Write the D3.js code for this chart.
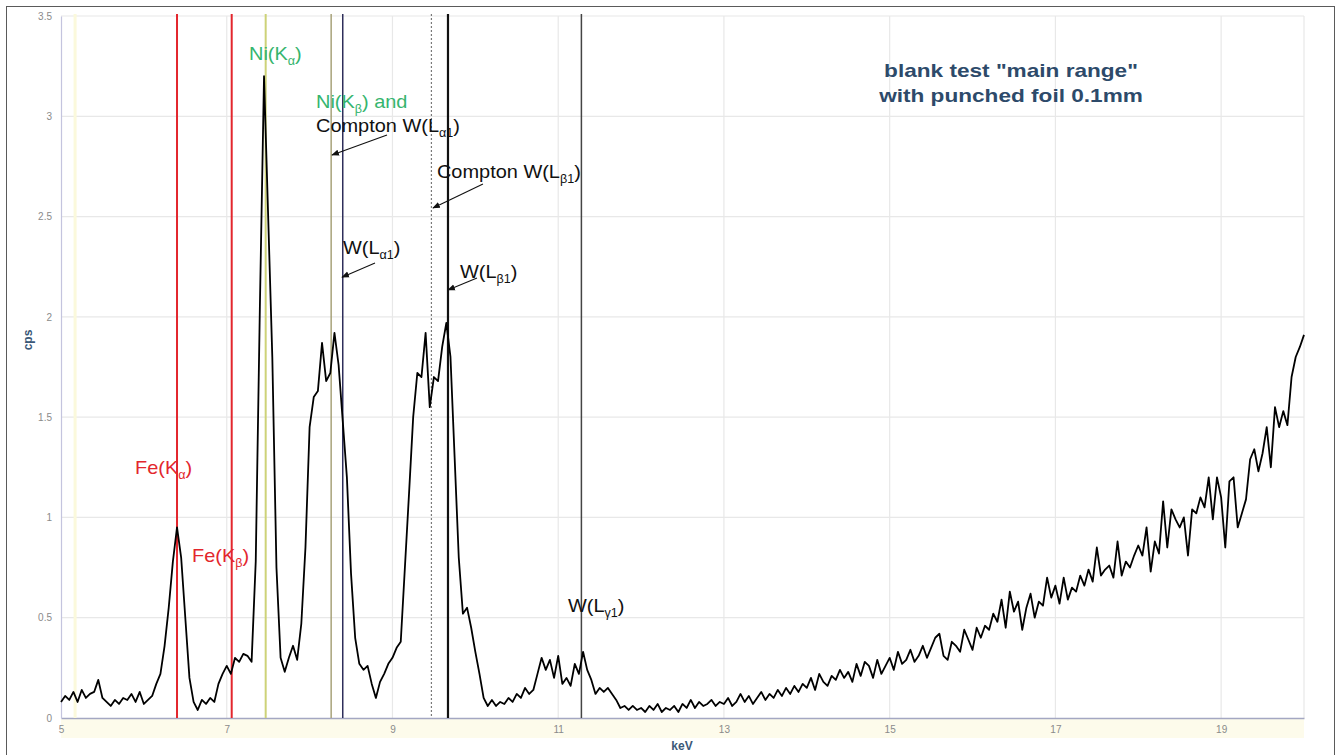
<!DOCTYPE html>
<html>
<head>
<meta charset="utf-8">
<script src="https://cdn.jsdelivr.net/npm/d3@7"></script>
<style>
  html, body { margin: 0; padding: 0; background: #fff; }
  #chart { width: 1339px; height: 755px; }
  text { font-family: "Liberation Sans", Arial, sans-serif; }
</style>
</head>
<body>
<div id="chart"></div>
<script>
//Datos del espectro: cps cada 0.05 keV, de 5 a 20 keV
const keVStart = 5, keVStep = 0.05;
const cps = [
  // 5.00 - 5.95
  0.08,0.11,0.09,0.13,0.08,0.14,0.10,0.12,0.13,0.19,0.10,0.08,0.06,0.09,0.07,0.10,0.09,0.12,0.08,0.13,
  // 6.00 - 6.95
  0.07,0.09,0.11,0.17,0.22,0.36,0.55,0.78,0.95,0.80,0.50,0.20,0.08,0.04,0.09,0.07,0.10,0.08,0.17,0.22,
  // 7.00 - 7.95
  0.26,0.22,0.30,0.28,0.32,0.31,0.28,0.78,2.05,3.20,2.50,1.80,0.75,0.30,0.23,0.30,0.36,0.29,0.47,0.85,
  // 8.00 - 8.95
  1.45,1.60,1.63,1.87,1.68,1.72,1.92,1.76,1.48,1.20,0.72,0.40,0.27,0.24,0.26,0.17,0.10,0.18,0.22,0.27,
  // 9.00 - 9.95
  0.30,0.35,0.38,0.75,1.12,1.50,1.72,1.70,1.92,1.55,1.70,1.68,1.85,1.97,1.80,1.30,0.80,0.52,0.55,0.45,
  // 10.00 - 10.95
  0.33,0.22,0.10,0.06,0.09,0.06,0.08,0.07,0.10,0.08,0.12,0.10,0.15,0.12,0.14,0.22,0.30,0.24,0.29,0.20,
  // 11.00 - 11.95
  0.31,0.17,0.20,0.16,0.27,0.22,0.33,0.24,0.19,0.12,0.15,0.13,0.15,0.12,0.09,0.05,0.06,0.04,0.06,0.04,
  // 12.00 - 12.95
  0.05,0.03,0.06,0.04,0.07,0.03,0.05,0.04,0.06,0.03,0.07,0.05,0.09,0.05,0.08,0.06,0.07,0.09,0.06,0.08,
  // 13.00 - 13.95
  0.07,0.10,0.06,0.08,0.12,0.08,0.11,0.07,0.10,0.13,0.09,0.12,0.10,0.14,0.11,0.15,0.12,0.16,0.13,0.17,
  // 14.00 - 14.95
  0.15,0.20,0.14,0.22,0.18,0.16,0.21,0.19,0.24,0.20,0.23,0.18,0.27,0.21,0.28,0.26,0.20,0.29,0.22,0.26,
  // 15.00 - 15.95
  0.30,0.24,0.33,0.27,0.29,0.34,0.28,0.31,0.36,0.30,0.35,0.40,0.42,0.31,0.29,0.38,0.36,0.33,0.44,0.39,
  // 16.00 - 16.95
  0.34,0.45,0.40,0.46,0.44,0.52,0.48,0.59,0.45,0.63,0.53,0.58,0.44,0.55,0.62,0.50,0.58,0.56,0.70,0.60,
  // 17.00 - 17.95
  0.66,0.57,0.70,0.59,0.65,0.63,0.71,0.66,0.74,0.68,0.85,0.71,0.74,0.76,0.70,0.88,0.71,0.78,0.75,0.81,
  // 18.00 - 18.95
  0.86,0.81,0.95,0.73,0.88,0.82,1.08,0.85,1.04,0.99,0.95,1.00,0.81,1.04,1.02,1.10,1.05,1.20,0.99,1.20,
  // 19.00 - 19.95
  1.10,0.85,1.18,1.20,0.95,1.02,1.09,1.29,1.34,1.23,1.32,1.45,1.25,1.55,1.45,1.53,1.46,1.70,1.80,1.85,
  // 20.00
  1.91
];

//Ejes
const xTicks = [5, 7, 9, 11, 13, 15, 17, 19];
const yTicks = [0, 0.5, 1, 1.5, 2, 2.5, 3, 3.5];

//Líneas de emisión (keV)
const lineNames = ['extra', 'FeKa', 'FeKb', 'NiKa', 'NiKb', 'WLa1', 'ComptonWLb1', 'WLb1', 'WLg1'];
const lineEnergies = [5.17, 6.40, 7.06, 7.47, 8.26, 8.40, 9.47, 9.67, 11.28];

//Etiquetas: texto principal, subíndice, resto, posición (keV, cps)
const labelMain = ['Fe(K', 'Fe(K', 'Ni(K', 'Ni(K', 'Compton W(L', 'Compton W(L', 'W(L', 'W(L', 'W(L'];
const labelSub = ['\u03b1', '\u03b2', '\u03b1', '\u03b2', '\u03b11', '\u03b21', '\u03b11', '\u03b21', '\u03b31'];
const labelTail = [')', ')', ')', ') and', ')', ')', ')', ')', ')'];
const labelKeV = [5.893, 6.581, 7.269, 8.077, 8.077, 9.537, 8.403, 9.815, 11.118];
const labelCps = [1.217, 0.778, 3.281, 3.041, 2.922, 2.694, 2.313, 2.194, 0.528];
const labelGroup = ['fe', 'fe', 'ni', 'ni', 'w', 'w', 'w', 'w', 'w'];

//Flechas (keV, cps) de inicio y fin
const arrowFrom = [[8.934, 2.907], [10.092, 2.662], [8.789, 2.268], [10.020, 2.194]];
const arrowTo = [[8.270, 2.807], [9.489, 2.543], [8.391, 2.198], [9.670, 2.134]];

//Colores fijos
const COLOR_FE = '#e3262d',
COLOR_NI_TEXT = '#35b56e',
COLOR_TEXT = '#111111',
COLOR_TITLE = '#2d4a6a',
COLOR_GRID = '#e8e8e8',
COLOR_TICK = '#8a8a8a';

const lineStyles = {
    extra: { color: '#fbf9dc', width: 3, dash: null },
    FeKa: { color: COLOR_FE, width: 2, dash: null },
    FeKb: { color: COLOR_FE, width: 2, dash: null },
    NiKa: { color: '#cdd278', width: 2, dash: null },
    NiKb: { color: '#a29c70', width: 1.4, dash: null },
    WLa1: { color: '#2e2e5a', width: 1.5, dash: null },
    ComptonWLb1: { color: '#7a7a7a', width: 1.2, dash: '2,2' },
    WLb1: { color: '#111111', width: 2.2, dash: null },
    WLg1: { color: '#444444', width: 1.5, dash: null }
};
const labelColors = { fe: COLOR_FE, ni: COLOR_NI_TEXT, w: COLOR_TEXT };

let margin = {top: 16, right: 35, bottom: 37, left: 61},
    width = 1339 - margin.left - margin.right,
    height = 755 - margin.top - margin.bottom;

let root = d3.select('#chart')
    .append('svg')
      .attr('width', 1339)
      .attr('height', 755);

//Marco exterior
root.append('rect')
    .attr('x', 6.5).attr('y', 6.5)
    .attr('width', 1328).attr('height', 760)
    .attr('fill', '#fff')
    .attr('stroke', '#5a5a5a')
    .attr('stroke-width', 1);

let svg = root.append('g')
    .attr('transform', 'translate(' + margin.left + ',' + margin.top + ')');

let x = d3.scaleLinear().domain([5, 20]).range([0, width]);
let y = d3.scaleLinear().domain([0, 3.5]).range([height, 0]);

//Banda bajo el eje
svg.append('rect')
    .attr('x', 0).attr('y', height + 1)
    .attr('width', width).attr('height', 19)
    .attr('fill', '#fdfbeb');

//Rejilla
svg.append('g')
    .selectAll('line')
    .data(yTicks.filter(d => d > 0))
    .enter().append('line')
      .attr('x1', 0).attr('x2', width)
      .attr('y1', d => y(d)).attr('y2', d => y(d))
      .attr('stroke', COLOR_GRID).attr('stroke-width', 1.2);

svg.append('g')
    .selectAll('line')
    .data(xTicks.filter(d => d > 5).concat([20]))
    .enter().append('line')
      .attr('x1', d => x(d)).attr('x2', d => x(d))
      .attr('y1', 0).attr('y2', height)
      .attr('stroke', COLOR_GRID).attr('stroke-width', 1.2);

//Ejes
let xAxis = svg.append('g')
    .attr('transform', 'translate(0,' + height + ')')
    .call(d3.axisBottom(x).tickValues(xTicks).tickSize(0).tickPadding(8).tickFormat(d3.format('d')));
xAxis.select('.domain').attr('stroke', '#a4a7c2').attr('stroke-width', 1.6);
xAxis.selectAll('text').attr('fill', COLOR_TICK).style('font-size', '10px');

let yAxis = svg.append('g')
    .call(d3.axisLeft(y).tickValues(yTicks).tickSize(0).tickPadding(9).tickFormat(d => d));
yAxis.select('.domain').attr('stroke', '#c4c4de').attr('stroke-width', 1.2);
yAxis.selectAll('text').attr('fill', COLOR_TICK).style('font-size', '10px');

//Líneas de emisión
svg.append('g')
    .selectAll('line')
    .data(lineNames)
    .enter().append('line')
      .attr('x1', (d, i) => x(lineEnergies[i]))
      .attr('x2', (d, i) => x(lineEnergies[i]))
      .attr('y1', -2).attr('y2', height)
      .attr('stroke', d => lineStyles[d].color)
      .attr('stroke-width', d => lineStyles[d].width)
      .attr('stroke-dasharray', d => lineStyles[d].dash);

//Espectro
let spectrum = cps.map((v, i) => ({ keV: keVStart + i * keVStep, cps: v }));

svg.append('path')
    .datum(spectrum)
    .attr('fill', 'none')
    .attr('stroke', '#000')
    .attr('stroke-width', 1.8)
    .attr('stroke-linejoin', 'round')
    .attr('d', d3.line().x(d => x(d.keV)).y(d => y(d.cps)));

//Flechas
root.append('defs').append('marker')
    .attr('id', 'arrow')
    .attr('viewBox', '0 0 10 10')
    .attr('refX', 9).attr('refY', 5)
    .attr('markerWidth', 7).attr('markerHeight', 7)
    .attr('orient', 'auto')
  .append('path')
    .attr('d', 'M0,1L10,5L0,9Z')
    .attr('fill', '#111');

svg.append('g')
    .selectAll('line')
    .data(arrowFrom)
    .enter().append('line')
      .attr('x1', d => x(d[0])).attr('y1', d => y(d[1]))
      .attr('x2', (d, i) => x(arrowTo[i][0])).attr('y2', (d, i) => y(arrowTo[i][1]))
      .attr('stroke', '#111').attr('stroke-width', 1.1)
      .attr('marker-end', 'url(#arrow)');

//Etiquetas
let labels = svg.append('g')
    .selectAll('text')
    .data(labelMain)
    .enter().append('text')
      .attr('transform', (d, i) => 'translate(' + x(labelKeV[i]) + ',' + y(labelCps[i]) + ') scale(1.05,1)')
      .attr('fill', (d, i) => labelColors[labelGroup[i]])
      .style('font-size', '19px');

labels.append('tspan').text(d => d);
labels.append('tspan')
    .attr('dy', 5)
    .style('font-size', '12px')
    .text((d, i) => labelSub[i]);
labels.append('tspan')
    .attr('dy', -5)
    .text((d, i) => labelTail[i]);

//Título
let title = root.append('text')
    .attr('transform', 'translate(1011,77) scale(1.19,1)')
    .attr('text-anchor', 'middle')
    .attr('fill', COLOR_TITLE)
    .style('font-size', '19px')
    .style('font-weight', 'bold');
title.append('tspan').attr('x', 0).attr('y', 0).text('blank test "main range"');
title.append('tspan').attr('x', 0).attr('y', 25).text('with punched foil 0.1mm');

//Títulos de ejes
root.append('text')
    .attr('transform', 'translate(32,340) rotate(-90)')
    .attr('text-anchor', 'middle')
    .attr('fill', '#3b5878')
    .style('font-size', '12px')
    .style('font-weight', 'bold')
    .text('cps');

root.append('text')
    .attr('x', 682).attr('y', 750)
    .attr('text-anchor', 'middle')
    .attr('fill', '#3b5878')
    .style('font-size', '12px')
    .style('font-weight', 'bold')
    .text('keV');
</script>
</body>
</html>
